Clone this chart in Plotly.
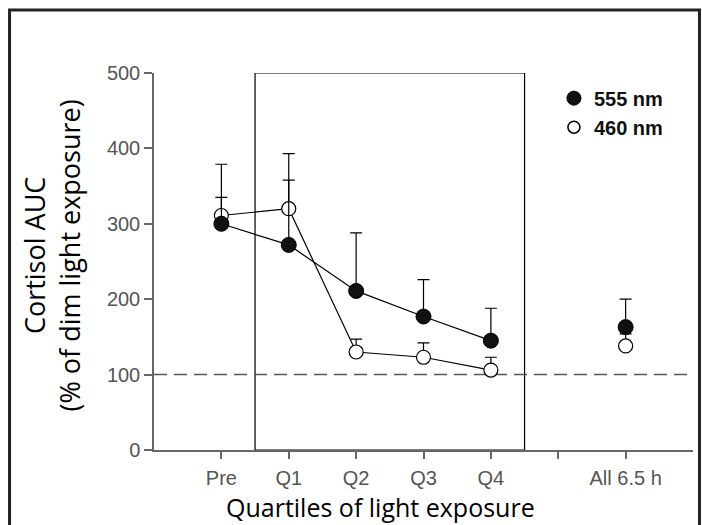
import plotly.graph_objects as go

categories = ["Pre", "Q1", "Q2", "Q3", "Q4", "", "All 6.5 h"]
positions = [1, 2, 3, 4, 5, 6, 7]

nm555 = [300, 272, 211, 177, 145, None, 163]
nm555_err = [35, 86, 77, 49, 43, 0, 37]
nm460 = [311, 320, 130, 123, 106, None, 138]
nm460_err = [68, 73, 17, 19, 17, 0, 16]

zeros = [0] * len(positions)

fig = go.Figure()

fig.add_trace(go.Scatter(
    x=positions, y=nm460, name="460 nm", mode="lines+markers",
    line=dict(color="black", width=1.2),
    marker=dict(symbol="circle", size=14, color="white", line=dict(color="black", width=1.2)),
    error_y=dict(type="data", symmetric=False, array=nm460_err, arrayminus=zeros,
                 color="black", thickness=1.2, width=6),
    connectgaps=False, showlegend=False,
))
fig.add_trace(go.Scatter(
    x=positions, y=nm555, name="555 nm", mode="lines+markers",
    line=dict(color="black", width=1.2),
    marker=dict(symbol="circle", size=15, color="#111", line=dict(color="black", width=1)),
    error_y=dict(type="data", symmetric=False, array=nm555_err, arrayminus=zeros,
                 color="black", thickness=1.2, width=6),
    connectgaps=False, showlegend=False,
))
# legend entries (markers only)
fig.add_trace(go.Scatter(x=[None], y=[None], name="555 nm", mode="markers",
                         marker=dict(symbol="circle", size=14, color="#111",
                                     line=dict(color="black", width=1))))
fig.add_trace(go.Scatter(x=[None], y=[None], name="460 nm", mode="markers",
                         marker=dict(symbol="circle", size=12, color="white",
                                     line=dict(color="black", width=1.5))))

# light exposure window box
fig.add_shape(type="rect", xref="x", yref="y", x0=1.5, x1=5.5, y0=0, y1=500,
              line=dict(color="black", width=1.2), layer="below")
# dim-light reference line at 100 %
fig.add_shape(type="line", xref="x", yref="y", x0=0, x1=8, y0=100, y1=100,
              line=dict(color="#555", width=1.5, dash="13px,7px"), layer="below")
# outer frame
fig.add_shape(type="rect", xref="paper", yref="paper", x0=-0.268, x1=1.012, y0=-0.22, y1=1.167,
              line=dict(color="#222", width=3), layer="above")

tickfont = dict(family="Liberation Sans, Arial", size=20, color="#555")
titlefont = dict(family="Open Sans", size=25, color="black")

fig.add_annotation(text="Quartiles of light exposure", xref="paper", yref="paper",
                   x=0.42, y=-0.152, xanchor="center", yanchor="middle",
                   showarrow=False, font=titlefont)
fig.add_annotation(text="Cortisol AUC<br>(% of dim light exposure)", xref="paper", yref="paper",
                   x=-0.19, y=0.515, xanchor="center", yanchor="middle", textangle=-90,
                   showarrow=False, font=dict(family="Open Sans", size=27, color="black"))

fig.update_layout(
    width=702, height=525,
    margin=dict(l=154, r=9, t=73, b=75),
    paper_bgcolor="white", plot_bgcolor="white",
    showlegend=True,
    legend=dict(x=0.742, y=0.985, xanchor="left", yanchor="top",
                font=dict(family="Liberation Sans, Arial", size=20, color="#111", weight="bold"),
                bgcolor="rgba(0,0,0,0)", itemwidth=30, tracegroupgap=0),
    xaxis=dict(range=[0, 8], tickvals=positions, ticktext=categories,
               showline=True, linecolor="#666", linewidth=1.5,
               ticks="outside", ticklen=7, tickcolor="#666", tickwidth=1.5,
               tickfont=tickfont, showgrid=False, zeroline=False, ticklabelstandoff=2),
    yaxis=dict(range=[0, 500], tickvals=[0, 100, 200, 300, 400, 500],
               showline=True, linecolor="#666", linewidth=1.5,
               ticks="outside", ticklen=8, tickcolor="#666", tickwidth=1.5,
               tickfont=tickfont, showgrid=False, zeroline=False),
)

fig.write_html("out.html")
